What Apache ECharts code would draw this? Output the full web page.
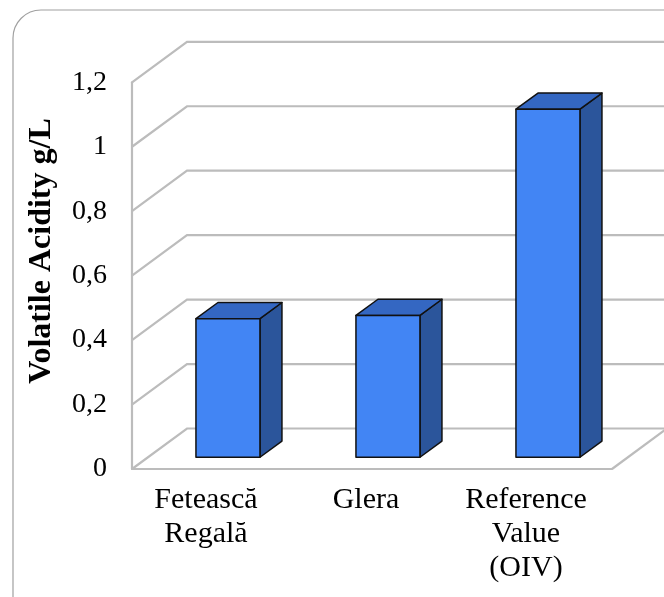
<!DOCTYPE html>
<html>
<head>
<meta charset="utf-8">
<script src="https://cdn.jsdelivr.net/npm/echarts@6/dist/echarts.min.js"></script>
<style>
  html, body { margin: 0; padding: 0; background: #fff; }
  #chart { width: 664px; height: 597px; }
</style>
</head>
<body>
<div id="chart"></div>
<script>
const categories = ['Fetească\nRegală', 'Glera', 'Reference\nValue\n(OIV)'];
const acidity = [0.43, 0.44, 1.08];
const yTicks = [0, 0.2, 0.4, 0.6, 0.8, 1, 1.2];
const yTickLabels = ['0', '0,2', '0,4', '0,6', '0,8', '1', '1,2'];
const yTitle = 'Volatile Acidity g/L';

// oblique projection of the depth direction (pixels for the full floor depth)
const DEPTH_X = 55;
const DEPTH_Y = -40.5;
// bars sit between these fractions of the floor depth
const BAR_FRONT = 0.29;
const BAR_BACK = 0.69;
const BAR_WIDTH = 0.4;

const GRID_COLOR = '#bcbcbc';
const SERIF = '"Liberation Serif", "Times New Roman", serif';

const chart = echarts.init(document.getElementById('chart'), null, { renderer: 'canvas' });

// side wall + back wall gridline for one tick value; the 0 tick also closes the floor
function wallGridItem(params, api) {
  const cs = params.coordSys;
  const y = api.coord([0, api.value(0)])[1];
  const x0 = cs.x;
  const x1 = cs.x + cs.width;
  const children = [{
    type: 'polyline',
    shape: { points: [[x0, y], [x0 + DEPTH_X, y + DEPTH_Y], [x1 + DEPTH_X + 20, y + DEPTH_Y]] },
    style: { stroke: GRID_COLOR, lineWidth: 2.2, fill: null }
  }];
  if (params.dataIndex === 0) {
    children.push({
      type: 'line',
      shape: { x1: x1, y1: y, x2: x1 + DEPTH_X, y2: y + DEPTH_Y },
      style: { stroke: GRID_COLOR, lineWidth: 2.2 }
    });
  }
  return { type: 'group', children: children };
}

function bar3dItem(params, api) {
  const idx = api.value(0);
  const val = api.value(1);
  const base = api.coord([idx, 0]);
  const top = api.coord([idx, val]);
  const w = api.size([1, 0])[0] * BAR_WIDTH;
  const fx = base[0] - w / 2 + DEPTH_X * BAR_FRONT;
  const fy0 = base[1] + DEPTH_Y * BAR_FRONT;
  const fy1 = top[1] + DEPTH_Y * BAR_FRONT;
  const dx = DEPTH_X * (BAR_BACK - BAR_FRONT);
  const dy = DEPTH_Y * (BAR_BACK - BAR_FRONT);
  const edge = { stroke: '#111', lineWidth: 1.5, lineJoin: 'round' };
  return {
    type: 'group',
    children: [
      {
        type: 'polygon',
        shape: { points: [[fx + w, fy1], [fx + w + dx, fy1 + dy], [fx + w + dx, fy0 + dy], [fx + w, fy0]] },
        style: Object.assign({ fill: '#2b559b' }, edge)
      },
      {
        type: 'polygon',
        shape: { points: [[fx, fy1], [fx + dx, fy1 + dy], [fx + w + dx, fy1 + dy], [fx + w, fy1]] },
        style: Object.assign({ fill: '#3467c2' }, edge)
      },
      {
        type: 'polygon',
        shape: { points: [[fx, fy1], [fx + w, fy1], [fx + w, fy0], [fx, fy0]] },
        style: Object.assign({ fill: '#4285f4' }, edge)
      }
    ]
  };
}

chart.setOption({
  animation: false,
  backgroundColor: '#ffffff',
  grid: { left: 132, right: 52, top: 82.3, bottom: 128, containLabel: false },
  xAxis: {
    type: 'category',
    data: categories,
    axisLine: { show: true, lineStyle: { color: GRID_COLOR, width: 2.2 } },
    axisTick: { show: false },
    axisLabel: {
      interval: 0,
      margin: 14,
      color: '#000',
      fontFamily: SERIF,
      fontSize: 30,
      lineHeight: 34,
      padding: [0, 12, 0, 0]
    },
    splitLine: { show: false }
  },
  yAxis: {
    type: 'value',
    min: 0,
    max: 1.2,
    interval: 0.2,
    axisLine: { show: true, lineStyle: { color: GRID_COLOR, width: 2.2 } },
    axisTick: { show: false },
    splitLine: { show: false },
    axisLabel: {
      margin: 25,
      color: '#000',
      fontFamily: SERIF,
      fontSize: 28,
      formatter: function (v) {
        const i = yTicks.findIndex(function (t) { return Math.abs(t - v) < 1e-9; });
        return i >= 0 ? yTickLabels[i] : '';
      }
    }
  },
  graphic: [
    {
      type: 'rect',
      z: -10,
      silent: true,
      shape: { x: 13, y: 10, width: 700, height: 650, r: 28 },
      style: { fill: null, stroke: '#a0a0a0', lineWidth: 1.2 }
    },
    {
      type: 'text',
      x: 41.5,
      y: 251,
      rotation: Math.PI / 2,
      style: {
        text: yTitle,
        font: 'bold 32px ' + SERIF,
        fill: '#000',
        align: 'center',
        verticalAlign: 'middle'
      }
    }
  ],
  series: [
    {
      type: 'custom',
      name: 'walls',
      z: 1,
      silent: true,
      renderItem: wallGridItem,
      data: yTicks.map(function (t) { return [t]; }),
      encode: { y: 0 }
    },
    {
      type: 'custom',
      name: 'Volatile acidity',
      z: 2,
      renderItem: bar3dItem,
      data: acidity.map(function (v, i) { return [i, v]; }),
      encode: { x: 0, y: 1 }
    }
  ]
});
</script>
</body>
</html>
